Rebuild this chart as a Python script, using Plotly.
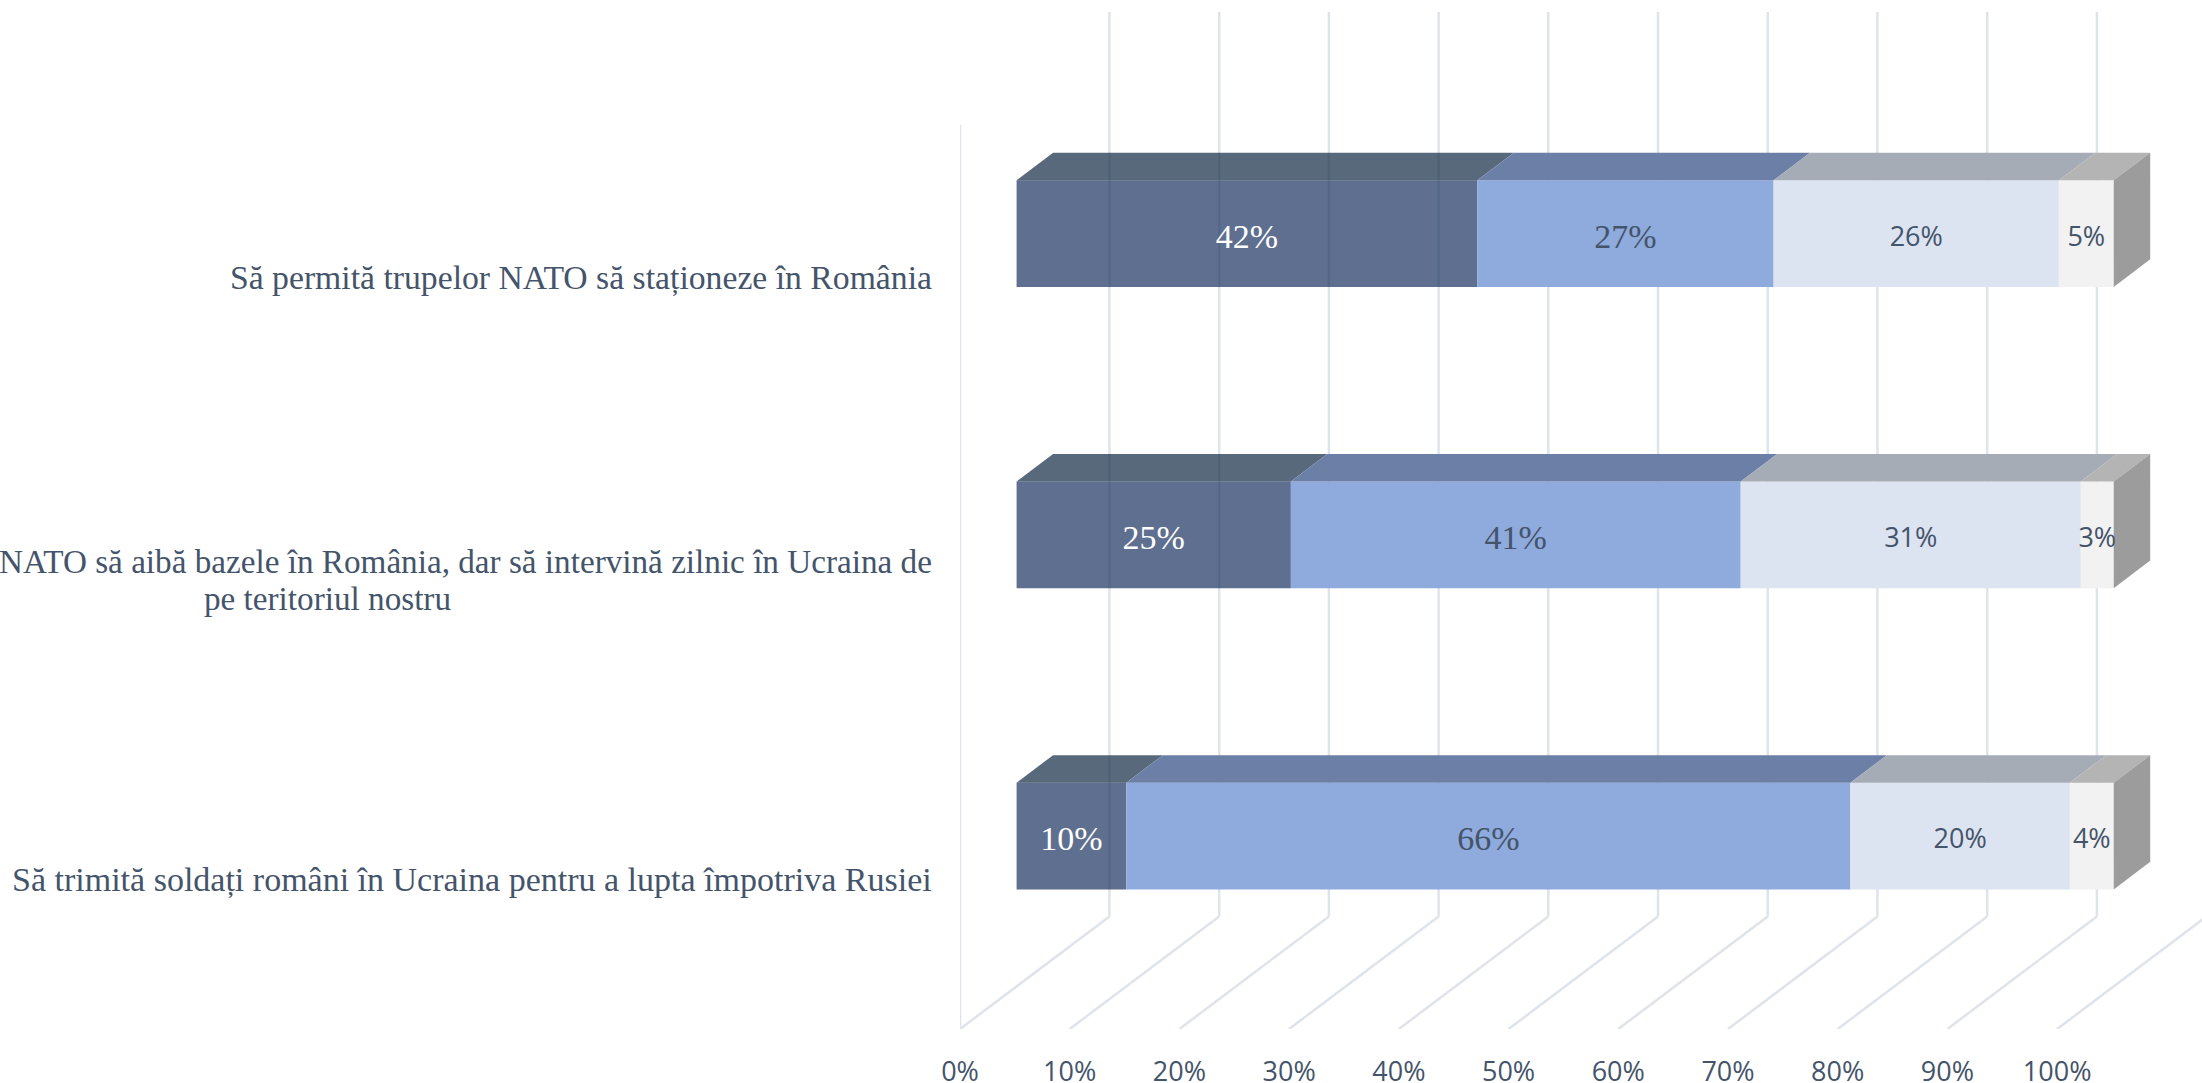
import plotly.graph_objects as go

categories = [
    "Să trimită soldați români în Ucraina pentru a lupta împotriva Rusiei",
    "NATO să aibă bazele în România, dar să intervină zilnic în Ucraina de<br>pe teritoriul nostru",
    "Să permită trupelor NATO să staționeze în România",
]
series_a = [10, 25, 42]
series_b = [66, 41, 27]
series_c = [20, 31, 26]
series_d = [4, 3, 5]
tick_values = [0, 10, 20, 30, 40, 50, 60, 70, 80, 90, 100]

series = [series_a, series_b, series_c, series_d]
front_colors = ["rgba(26,50,96,0.7)", "#8faadc", "#dce3f1", "#f2f2f2"]
top_colors = ["rgba(19,41,68,0.7)", "#6c7fa6", "#a5acb6", "#b4b4b4"]
side_color = "#9c9c9c"
text_color = "#44546a"
grid_color = "#dfe3ea"
GRID_W = 2.5
SERIF = "Liberation Serif"
SANS = "Open Sans"

# oblique projection, in axis units
W, H = 2202, 1083
ML, MB = 959.7, 53.7
PX_X = 10.974   # px per percent
PX_Y = 301.3    # px per category step
X_MAX = (W - ML) / PX_X
Y_MIN = -(H - MB - 836.3) / PX_Y
Y_MAX = 2 + 233.7 / PX_Y
BAR_H = 106.7 / PX_Y
BAR_OFF = 56.6 / PX_X
BAR_DX = 36.5 / PX_X
BAR_DY = 27.6 / PX_Y
WALL_DX = 149.5 / PX_X
WALL_DY = 112.6 / PX_Y
WALL_H = 904.6 / PX_Y

fig = go.Figure()

# walls and floor
fig.add_shape(type="line", xref="x", yref="y", layer="below", x0=0, x1=0,
              y0=Y_MIN, y1=Y_MIN + WALL_H, line=dict(color=grid_color, width=GRID_W))
for t in tick_values:
    fig.add_shape(type="line", xref="x", yref="y", layer="below",
                  x0=t, x1=t + WALL_DX, y0=Y_MIN, y1=Y_MIN + WALL_DY,
                  line=dict(color=grid_color, width=GRID_W))
    fig.add_shape(type="line", xref="x", yref="y", layer="below",
                  x0=t + WALL_DX, x1=t + WALL_DX, y0=Y_MIN + WALL_DY,
                  y1=Y_MIN + WALL_DY + WALL_H,
                  line=dict(color=grid_color, width=GRID_W))

cats = list(range(len(categories)))
cum = [0.0] * len(cats)
for s, vals in enumerate(series):
    bases = [c + BAR_OFF for c in cum]
    fig.add_trace(go.Bar(orientation="h", y=cats, x=vals, base=bases, width=BAR_H,
                         marker=dict(color=front_colors[s], line=dict(width=0)),
                         showlegend=False, hoverinfo="skip"))
    for i in cats:
        a, b = bases[i], bases[i] + vals[i]
        yt = i + BAR_H / 2
        fig.add_trace(go.Scatter(
            x=[a, b, b + BAR_DX, a + BAR_DX, a],
            y=[yt, yt, yt + BAR_DY, yt + BAR_DY, yt],
            mode="lines", fill="toself", fillcolor=top_colors[s],
            line=dict(width=0), showlegend=False, hoverinfo="skip"))
    cum = [c + v for c, v in zip(cum, vals)]

for i in cats:
    end = cum[i] + BAR_OFF
    yt, yb = i + BAR_H / 2, i - BAR_H / 2
    fig.add_trace(go.Scatter(
        x=[end, end + BAR_DX, end + BAR_DX, end, end],
        y=[yt, yt + BAR_DY, yb + BAR_DY, yb, yt],
        mode="lines", fill="toself", fillcolor=side_color,
        line=dict(width=0), showlegend=False, hoverinfo="skip"))

# data labels
cum = [0.0] * len(cats)
label_fonts = [
    dict(family=SERIF, size=34, color="white"),
    dict(family=SERIF, size=34, color=text_color),
    dict(family=SANS, size=27, color=text_color),
    dict(family=SANS, size=27, color=text_color),
]
for s, vals in enumerate(series):
    fig.add_trace(go.Scatter(
        x=[c + v / 2 + BAR_OFF for c, v in zip(cum, vals)],
        y=[c - 5.5 / PX_Y for c in cats],
        text=[f"{v}%" for v in vals], mode="text", textposition="middle center",
        textfont=label_fonts[s], showlegend=False, hoverinfo="skip", cliponaxis=False))
    cum = [c + v for c, v in zip(cum, vals)]

# category labels
for i, name in enumerate(categories):
    parts = name.split("<br>")
    if len(parts) == 1:
        fig.add_annotation(text=name, xref="paper", yref="y", x=0, y=i - 44 / PX_Y,
                           xshift=-26, xanchor="right", yanchor="middle", showarrow=False,
                           font=dict(family=SERIF, size=34 if i == 0 else 33.7, color=text_color))
    else:
        fig.add_annotation(text=parts[0], xref="paper", yref="y", x=0, y=i - 27 / PX_Y,
                           xshift=-26, xanchor="right", yanchor="middle", showarrow=False,
                           font=dict(family=SERIF, size=33.2, color=text_color))
        fig.add_annotation(text=parts[1], xref="paper", yref="y", x=0, y=i - 64 / PX_Y,
                           xshift=327.5 - ML, xanchor="center", yanchor="middle", showarrow=False,
                           font=dict(family=SERIF, size=33.2, color=text_color))

fig.update_layout(
    width=W, height=H, autosize=False, barmode="overlay",
    paper_bgcolor="white", plot_bgcolor="white", showlegend=False,
    margin=dict(l=ML, r=0, t=0, b=MB, pad=0),
    xaxis=dict(range=[0, X_MAX], tickvals=tick_values, automargin=False,
               ticktext=[f"{t}%" for t in tick_values],
               ticks="outside", ticklen=19, tickcolor="rgba(0,0,0,0)",
               showgrid=False, zeroline=False, showline=False,
               tickfont=dict(family=SANS, size=27, color=text_color)),
    yaxis=dict(range=[Y_MIN, Y_MAX], showgrid=False, zeroline=False, automargin=False,
               showline=False, showticklabels=False, ticks=""),
)
fig.write_html("out.html", config={"displayModeBar": False},
               post_script="document.body.style.margin='0';")
